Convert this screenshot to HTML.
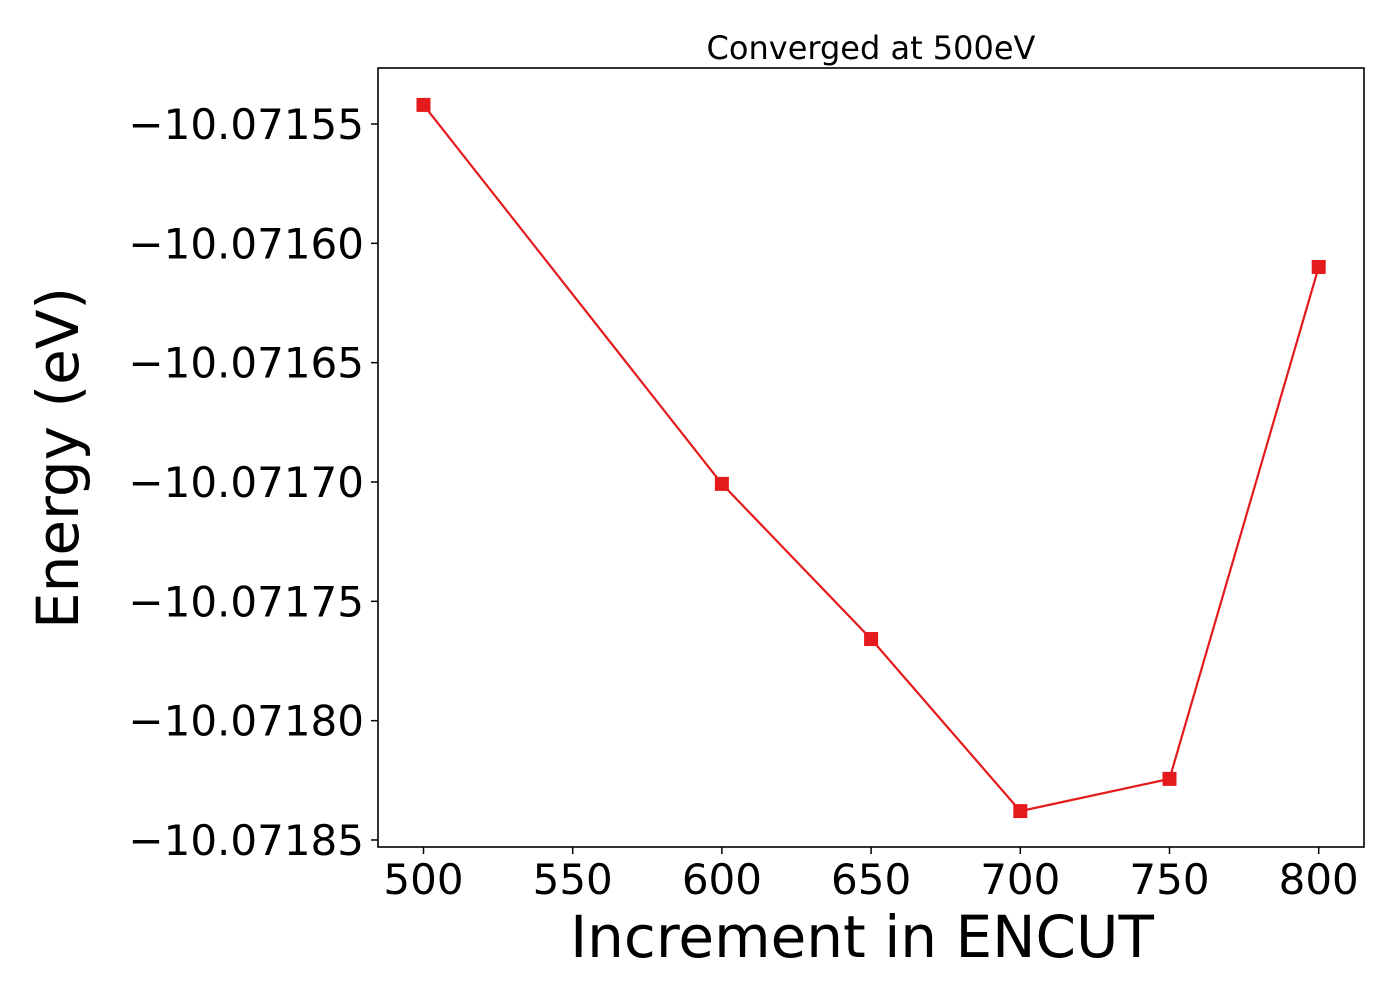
<!DOCTYPE html>
<html><head><meta charset="utf-8"><style>
body{margin:0;background:#fff}
text{font-family:"DejaVu Sans","Liberation Sans",sans-serif;fill:#000}
</style></head><body>
<svg id="chart" width="1400" height="1000" viewBox="0 0 1400 1000" xmlns="http://www.w3.org/2000/svg">
<rect x="0" y="0" width="1400" height="1000" fill="#fff"/>
<text x="871" y="59" font-size="32" text-anchor="middle">Converged at 500eV</text>
<text x="862" y="957" font-size="58" text-anchor="middle">Increment in ENCUT</text>
<text transform="translate(78,458) rotate(-90)" font-size="58" text-anchor="middle">Energy (eV)</text>
<g id="ticks"></g>
<g id="marks"></g>
<rect x="378" y="68" width="986" height="779" fill="none" stroke="#000" stroke-width="1.6"/>
</svg>
<script>
const categories=[500,600,650,700,750,800];
const energies=[-10.071542,-10.0717008,-10.0717658,-10.0718379,-10.0718244,-10.0716099];
const xTicks=[500,550,600,650,700,750,800];
const yTicks=[-10.07155,-10.0716,-10.07165,-10.0717,-10.07175,-10.0718,-10.07185];
const yTickLabels=["\u221210.07155","\u221210.07160","\u221210.07165","\u221210.07170","\u221210.07175","\u221210.07180","\u221210.07185"];
const NS="http://www.w3.org/2000/svg";
function xs(v){return 423.5+(v-500)*(149.2/50);}
function ys(v){return 124+(-10.07155-v)*(119.33/0.00005);}
const tg=document.getElementById('ticks');
function mk(tag,attrs,parent){const e=document.createElementNS(NS,tag);for(const k in attrs)e.setAttribute(k,attrs[k]);parent.appendChild(e);return e;}
xTicks.forEach(t=>{
  const x=xs(t);
  const l=mk('line',{x1:x,x2:x,y1:847,y2:854,stroke:'#000','stroke-width':1.5},tg);
  
  
  const tx=mk('text',{x:x,y:894,'font-size':42,'text-anchor':'middle'},tg);
  tx.textContent=t;
  
  
});
yTicks.forEach((t,i)=>{
  const y=ys(t);
  const l=mk('line',{x1:371,x2:378,y1:y,y2:y,stroke:'#000','stroke-width':1.5},tg);
  
  
  const tx=mk('text',{x:364,y:y+15,'font-size':42,'text-anchor':'end'},tg);
  tx.textContent=yTickLabels[i];
  
  
});
const mg=document.getElementById('marks');
const pts=categories.map((c,i)=>xs(c)+','+ys(energies[i])).join(' ');
const pl=mk('polyline',{points:pts,fill:'none',stroke:'#e41a1c','stroke-width':2.2},mg);


categories.forEach((c,i)=>{
  const r=mk('rect',{x:xs(c)-7,y:ys(energies[i])-7,width:14,height:14,fill:'#e41a1c'},mg);
  
  
});
</script>
</body></html>
